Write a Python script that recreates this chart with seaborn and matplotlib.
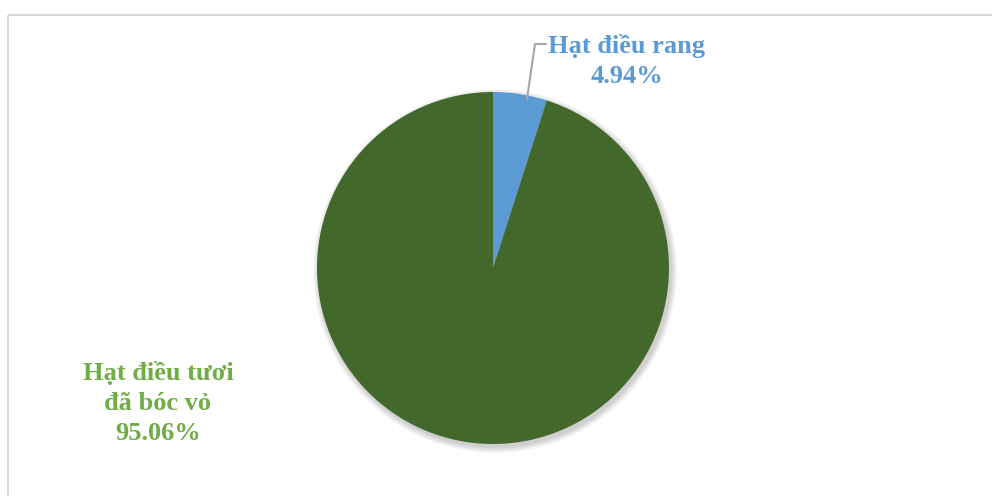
import matplotlib
matplotlib.use("Agg")
import matplotlib.pyplot as plt
import seaborn as sns
from matplotlib.patches import Circle, Rectangle

sns.set_theme(style="white")
plt.rcParams["font.family"] = ["Liberation Serif", "DejaVu Serif"]

# Data
categories = ["Hạt điều rang", "Hạt điều tươi\nđã bóc vỏ"]
shares = [4.94, 95.06]
colors = ["#5B9BD5", "#43682B"]
label_colors = ["#5B9BD5", "#70AD47"]

W, H = 992, 496
fig = plt.figure(figsize=(W / 100, H / 100), dpi=100)
ax = fig.add_axes([0, 0, 1, 1])

# Chart-area border (light gray frame)
ax.add_patch(Rectangle((7.5, 14.5), W + 20, H + 20, fill=False,
                       edgecolor="#D9D9D9", linewidth=1.5, zorder=0))

cx, cy, r = 493, 268, 176

# Soft drop shadow under the pie
for i in range(8):
    ax.add_patch(Circle((cx + 2, cy + 3), r + 0.5 + i * 0.8, facecolor="#000000",
                        edgecolor="none", alpha=0.025, zorder=1))

# y axis runs downward (pixel-like coordinates), so a data start of -90 with
# counter-clockwise order shows as starting at 12 o'clock going clockwise
wedges, _ = ax.pie(shares, colors=colors, startangle=-90, counterclock=True,
                   center=(cx, cy), radius=r, frame=True,
                   wedgeprops=dict(linewidth=0))
for w in wedges:
    w.set_zorder(2)
ax.set_xlim(0, W)
ax.set_ylim(H, 0)
ax.set_aspect("equal")
ax.axis("off")

# Labels
ax.text(627, 61, f"{categories[0]}\n{shares[0]:.2f}%", ha="center", va="center",
        fontsize=19, fontweight="bold", color=label_colors[0],
        linespacing=1.38, zorder=3)
ax.text(158, 403, f"{categories[1]}\n{shares[1]:.2f}%", ha="center", va="center",
        fontsize=19, fontweight="bold", color=label_colors[1],
        linespacing=1.38, zorder=3)

# Leader line for the small slice
ax.plot([527, 535, 546], [99, 44, 44], color="#A6A6A6", linewidth=1.5, zorder=3)

fig.savefig("out.png", dpi=100, facecolor="white")
